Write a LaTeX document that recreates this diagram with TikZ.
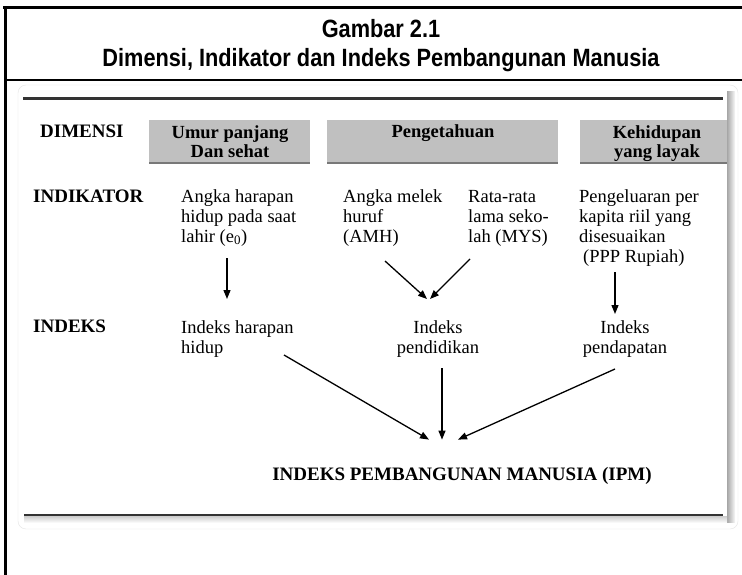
\documentclass[tikz,border=0pt]{standalone}
\usepackage{fontspec}
\setmainfont{Liberation Serif}
\newfontfamily\titlefont[FakeStretch=0.87]{Liberation Sans}
\usetikzlibrary{arrows.meta,calc}
\definecolor{boxgray}{RGB}{192,192,192}
\definecolor{boxedge}{RGB}{120,120,120}
\definecolor{rulegray}{RGB}{51,51,51}

\begin{document}
\begin{tikzpicture}[
  x=1pt, y=-1pt,
  >={Triangle[length=9pt,width=7pt]},
  arr/.style={->, line width=1.3pt},
  rowlbl/.style={font=\fontsize{19}{20}\selectfont\bfseries, anchor=base west, inner sep=0pt},
  txt/.style={font=\fontsize{18.5}{20}\selectfont, align=left, anchor=base west, inner sep=0pt},
  ctxt/.style={txt, align=center, anchor=base},
  dimtxt/.style={ctxt, font=\fontsize{18.5}{20}\selectfont\bfseries},
  dimbox/.style={fill=boxgray, inner sep=0pt, anchor=north west, minimum height=43pt},
  ttl/.style={font=\titlefont\bfseries\fontsize{25}{29}\selectfont, inner sep=0pt, anchor=base}
]
\useasboundingbox (0,0) rectangle (742,575);
\fill[white] (0,0) rectangle (742,575);

%========== frame and title ==========
\draw[line width=3pt] (3,8) -- (742,8);
\draw[line width=3pt] (5.5,6.5) -- (5.5,575);
\draw[line width=2pt] (5.5,80.5) -- (742,80.5);
\node[ttl] (fignum) at (381,38) {Gambar 2.1};
\node[ttl] (figtitle) at (381,67) {Dimensi, Indikator dan Indeks Pembangunan Manusia};

%========== panel with shadow ==========
\draw[gray!20, fill=white, rounded corners=8pt] (18,85) rectangle (738,529);
\shade[left color=gray!70, right color=gray!5] (727,92) rectangle (735,522);
\shade[top color=gray!40, bottom color=white] (24,516) rectangle (727,523);
\draw[rulegray, line width=3pt] (23,98.5) -- (723,98.5);
\draw[rulegray, line width=2.5pt] (24,515) -- (723,515);

%========== row labels ==========
% multi-line nodes sit on the baseline of their last line
\node[rowlbl] (dimensi) at (40,138) {DIMENSI};
\node[rowlbl] (indikator) at (33,202) {INDIKATOR};
\node[rowlbl] (indeks) at (33,332) {INDEKS};

%========== dimensions ==========
\node[dimbox, minimum width=161pt] (boxumur) at (149,120) {};
\node[dimbox, minimum width=231pt] (boxpeng) at (327,120) {};
\node[dimbox, minimum width=147pt] (boxhidup) at (580,120) {};
\foreach \b in {boxumur,boxpeng,boxhidup}
  \draw[boxedge, line width=2pt] (\b.south west) -- (\b.south east);
\node[dimtxt] (umur) at (230,158) {Umur panjang\\Dan sehat};
\node[dimtxt] (peng) at (443,138) {Pengetahuan};
\node[dimtxt] (layak) at (657,158) {Kehidupan\\yang layak};

%========== indicators ==========
\node[txt] (ahh) at (181,242) {Angka harapan\\hidup pada saat\\lahir (e\textsubscript{0})};
\node[txt] (amh) at (343,242) {Angka melek\\huruf\\(AMH)};
\node[txt] (mys) at (468,242) {Rata-rata\\lama seko-\\lah (MYS)};
\node[txt] (ppp) at (579,262) {Pengeluaran per\\kapita riil yang\\disesuaikan\\\hspace{4pt}(PPP Rupiah)};

%========== indices ==========
\node[txt] (ihh) at (181,353) {Indeks harapan\\hidup};
\node[ctxt] (ipend) at (438,353) {Indeks\\pendidikan};
\node[ctxt] (ipdp) at (625,353) {Indeks\\pendapatan};
\node[rowlbl, anchor=base] (ipm) at (462,480) {INDEKS PEMBANGUNAN MANUSIA (IPM)};

%========== arrows ==========
\coordinate (ahhout) at (227,258);  \coordinate (ihhin) at (227,299);
\coordinate (amhout) at (385,261);  \coordinate (mysout) at (470,259);
\coordinate (ipendin) at (428.5,299);
\coordinate (pppout) at (615,272);  \coordinate (ipdpin) at (615,314);
\coordinate (ihhout) at (284,355);  \coordinate (ipendout) at (442,368);
\coordinate (ipdpout) at (615,369);
\draw[arr] (ahhout) -- (ihhin);
\draw[arr] (amhout) -- ([xshift=-1.5pt]ipendin);
\draw[arr] (mysout) -- ([xshift=1.5pt]ipendin);
\draw[arr] (pppout) -- (ipdpin);
\draw[arr] (ihhout) -- ([xshift=-33pt,yshift=27pt]ipm.north);
\draw[arr] (ipendout) -- ([xshift=-20pt,yshift=27pt]ipm.north);
\draw[arr] (ipdpout) -- ([xshift=-4pt,yshift=27pt]ipm.north);
\end{tikzpicture}
\end{document}
